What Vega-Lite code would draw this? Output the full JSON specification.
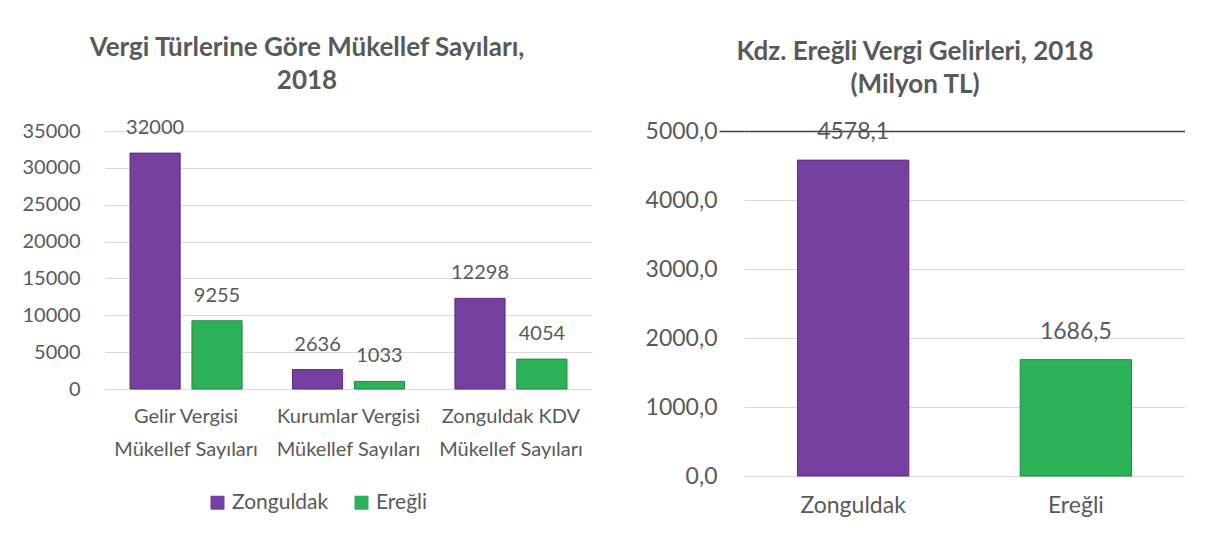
{
  "$schema": "https://vega.github.io/schema/vega-lite/v6.json",
  "padding": {"left": 22, "top": 35, "right": 0, "bottom": 0},
  "background": "white",
  "spacing": 53,
  "config": {
    "font": "Lato",
    "view": {"stroke": null},
    "locale": {"number": {"decimal": ",", "thousands": ".", "grouping": [3], "currency": ["", " TL"]}},
    "axis": {"labelColor": "#595959", "labelFontSize": 20, "labelFont": "Lato", "gridColor": "#d9d9d9", "domainColor": "#d9d9d9", "ticks": false, "titleColor": "#595959"},
    "title": {"color": "#595959", "fontSize": 26, "font": "Lato", "fontWeight": "bold", "lineHeight": 33, "frame": "bounds", "anchor": "middle"},
    "legend": {"labelColor": "#595959", "labelFontSize": 21, "labelFont": "Lato"}
  },
  "hconcat": [
    {
      "width": 487,
      "height": 258,
      "title": {"text": ["Vergi Türlerine Göre Mükellef Sayıları,", "2018"], "offset": 24},
      "data": {"values": [
        {"tur": "Gelir Vergisi|Mükellef Sayıları", "il": "Zonguldak", "sayi": 32000},
        {"tur": "Gelir Vergisi|Mükellef Sayıları", "il": "Ereğli", "sayi": 9255},
        {"tur": "Kurumlar Vergisi|Mükellef Sayıları", "il": "Zonguldak", "sayi": 2636},
        {"tur": "Kurumlar Vergisi|Mükellef Sayıları", "il": "Ereğli", "sayi": 1033},
        {"tur": "Zonguldak KDV|Mükellef Sayıları", "il": "Zonguldak", "sayi": 12298},
        {"tur": "Zonguldak KDV|Mükellef Sayıları", "il": "Ereğli", "sayi": 4054}
      ]},
      "encoding": {
        "x": {"field": "tur", "type": "nominal", "sort": null,
              "scale": {"paddingInner": 0.31, "paddingOuter": 0.154},
              "axis": {"title": null, "labelAngle": 0, "labelExpr": "split(datum.label, '|')", "labelPadding": 17, "labelLineHeight": 33, "labelLimit": 300, "grid": false, "domain": false}},
        "xOffset": {"field": "il", "type": "nominal", "sort": ["Zonguldak", "Ereğli"], "scale": {"paddingInner": 0.19}},
        "y": {"field": "sayi", "type": "quantitative",
              "scale": {"domain": [0, 35000]},
              "axis": {"title": null, "values": [0, 5000, 10000, 15000, 20000, 25000, 30000, 35000], "format": "d", "domain": false, "labelPadding": 25}}
      },
      "layer": [
        {
          "mark": {"type": "bar", "strokeWidth": 1},
          "encoding": {
            "color": {"field": "il", "type": "nominal", "sort": ["Zonguldak", "Ereğli"],
                      "scale": {"domain": ["Zonguldak", "Ereğli"], "range": ["#7540a0", "#2bb157"]},
                      "legend": {"title": null, "orient": "none", "direction": "horizontal", "legendX": 102, "legendY": 361, "symbolType": "square", "symbolSize": 196, "columnPadding": 22, "labelOffset": 4, "symbolStrokeWidth": 0}},
            "stroke": {"field": "il", "type": "nominal", "scale": {"domain": ["Zonguldak", "Ereğli"], "range": ["#5b2d82", "#1f8a43"]}, "legend": null}
          }
        },
        {
          "mark": {"type": "text", "baseline": "middle", "dy": -25, "fontSize": 20, "color": "#595959"},
          "encoding": {"text": {"field": "sayi", "type": "quantitative", "format": "d"}}
        }
      ]
    },
    {
      "width": 441,
      "height": 345,
      "title": {"text": ["Kdz. Ereğli Vergi Gelirleri, 2018", "(Milyon TL)"], "offset": 22},
      "data": {"values": [
        {"il": "Zonguldak", "gelir": 4578.1},
        {"il": "Ereğli", "gelir": 1686.5}
      ]},
      "encoding": {
        "x": {"field": "il", "type": "nominal", "sort": ["Zonguldak", "Ereğli"],
              "scale": {"paddingInner": 0.5, "paddingOuter": 0.24},
              "axis": {"title": null, "labelAngle": 0, "labelPadding": 18, "labelFontSize": 23, "grid": false, "domainColor": "#d9d9d9"}},
        "y": {"field": "gelir", "type": "quantitative",
              "scale": {"domain": [0, 5000]},
              "axis": {"title": null, "values": [0, 1000, 2000, 3000, 4000, 5000], "format": ".1f", "domain": false,
                       "labelFontSize": 23,
                       "ticks": true, "tickSize": 25, "tickWidth": 1.5,
                       "tickColor": {"condition": {"test": "datum.value === 5000", "value": "#404040"}, "value": "transparent"},
                       "gridColor": {"condition": {"test": "datum.value === 5000", "value": "#404040"}, "value": "#d9d9d9"},
                       "gridWidth": {"condition": {"test": "datum.value === 5000", "value": 1.5}, "value": 1},
                       "labelPadding": 2}}
      },
      "layer": [
        {
          "mark": {"type": "bar", "strokeWidth": 1},
          "encoding": {
            "color": {"field": "il", "type": "nominal", "scale": {"domain": ["Zonguldak", "Ereğli"], "range": ["#7540a0", "#2bb157"]}, "legend": null},
            "stroke": {"field": "il", "type": "nominal", "scale": {"domain": ["Zonguldak", "Ereğli"], "range": ["#5b2d82", "#1f8a43"]}, "legend": null}
          }
        },
        {
          "mark": {"type": "text", "baseline": "middle", "dy": -28, "fontSize": 23, "color": "#595959"},
          "encoding": {"text": {"field": "gelir", "type": "quantitative", "format": ".1f"}}
        }
      ]
    }
  ],
  "resolve": {"scale": {"color": "independent", "stroke": "independent"}}
}
